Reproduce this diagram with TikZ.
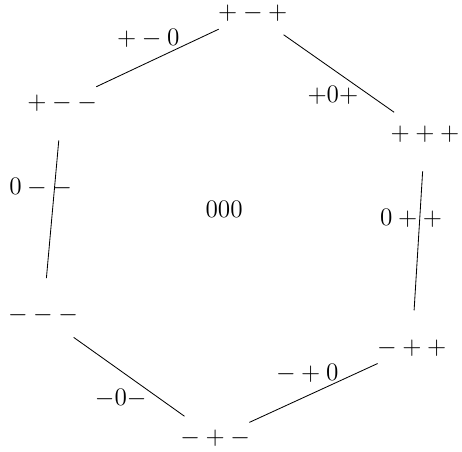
\documentclass[tikz,border=0pt]{standalone}
\usepackage{tikz}

\tikzset{
  state/.style={inner sep=1pt},
  side/.style={shorten >=0.63cm, shorten <=0.63cm},
  trans/.style={inner sep=1pt}
}

\begin{document}
\begin{tikzpicture}[font=\large]
        \useasboundingbox (0,0) rectangle (7.73,7.56);
        % the six corner states
        \node[state] (ppm) at (4.23,7.34) {$+-+$};
        \node[state] (ppp) at (7.11,5.32) {$+++$};
        \node[state] (mpp) at (6.89,1.74) {$-++$};
        \node[state] (mpm) at (3.60,0.23) {$-+-$};
        \node[state] (mmm) at (0.72,2.28) {$---$};
        \node[state] (pmm) at (1.04,5.84) {$+--$};
        \node (ooo) at (3.75,4.05) {$000$};
        % sides
        \draw[side] (pmm.center) -- (ppm.center);
        \draw[side] (ppm.center) -- (ppp.center);
        \draw[side] (ppp.center) -- (mpp.center);
        \draw[side] (mpp.center) -- (mpm.center);
        \draw[side] (mpm.center) -- (mmm.center);
        \draw[side] (mmm.center) -- (pmm.center);
        % labels of the sides
        \node[trans] (pmo) at (2.48,6.91) {$+-0$};
        \node[trans] (pop) at (5.57,5.96) {${+}0{+}$};
        \node[trans] (opp) at (6.88,3.91) {$0++$};
        \node[trans] (mpo) at (5.14,1.32) {$-+0$};
        \node[trans] (mom) at (2.02,0.90) {${-}0{-}$};
        \node[trans] (omm) at (0.68,4.42) {$0--$};
      \end{tikzpicture}
\end{document}
